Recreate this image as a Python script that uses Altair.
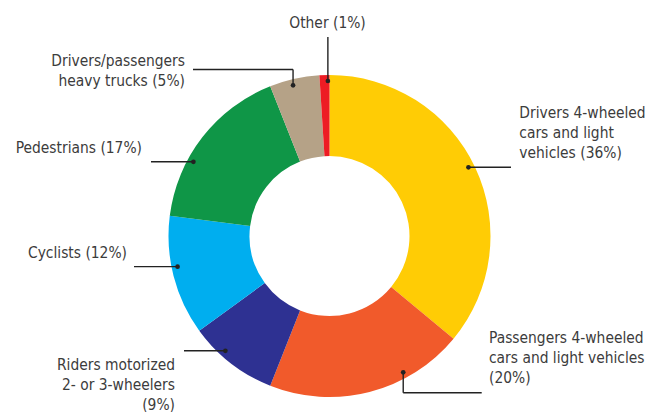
import math
import altair as alt
import pandas as pd

# ---------------- data ----------------
categories = [
    "Drivers 4-wheeled cars and light vehicles",
    "Passengers 4-wheeled cars and light vehicles",
    "Riders motorized 2- or 3-wheelers",
    "Cyclists",
    "Pedestrians",
    "Drivers/passengers heavy trucks",
    "Other",
]
shares = [36, 20, 9, 12, 17, 5, 1]
label_texts = [
    "Drivers 4-wheeled\ncars and light\nvehicles (36%)",
    "Passengers 4-wheeled\ncars and light vehicles\n(20%)",
    "Riders motorized\n2- or 3-wheelers\n(9%)",
    "Cyclists (12%)",
    "Pedestrians (17%)",
    "Drivers/passengers\nheavy trucks (5%)",
    "Other (1%)",
]
colors = ["#FFCC05", "#F15A2B", "#2E3192", "#00AEEF", "#0F9647", "#B5A287", "#ED1C24"]

# ---------------- layout (chart pixel space) ----------------
W, H = 640, 404
CX, CY = 321.5, 228.0
R_OUT, R_IN = 161, 80
DOT_R = 155
dot_angles = [63.7, 151.6, 222.2, 258.6, 298.6, 346.4, 359.4]
# waypoints of leader lines after the dot (None = keep dot coordinate)
leader_paths = [
    [(503, None)],
    [(None, 384.7), (473.7, 384.7)],
    [(176, None)],
    [(126, None)],
    [(143, None)],
    [(None, 61.5), (185, 61.5)],
    [(None, 29)],
]
# x, y of first text line, alignment
label_pos = [
    (511.3, 105, "left"),
    (481.0, 330, "left"),
    (167, 357, "right"),
    (119, 245, "right"),
    (134, 140, "right"),
    (177, 53, "right"),
    (319.5, 15, "center"),
]

FONT = "DejaVu Sans Condensed"
FONT_SIZE = 15.4
TXT = "#3c3c3c"

pie_df = pd.DataFrame({"cat": categories, "value": shares, "idx": list(range(len(categories)))})

dots, segs = [], []
for i, a in enumerate(dot_angles):
    rad = math.radians(a)
    dx = CX + DOT_R * math.sin(rad)
    dy = CY - DOT_R * math.cos(rad)
    dots.append({"x": dx, "y": dy})
    px, py = dx, dy
    for wx, wy in leader_paths[i]:
        nx = px if wx is None else wx
        ny = py if wy is None else wy
        segs.append({"x": px, "y": py, "x2": nx, "y2": ny})
        px, py = nx, ny
dots_df = pd.DataFrame(dots)
segs_df = pd.DataFrame(segs)
lab_df = pd.DataFrame(
    {"text": label_texts, "x": [p[0] for p in label_pos], "y": [p[1] for p in label_pos],
     "align": [p[2] for p in label_pos]}
)

xs = alt.Scale(domain=[0, W], range=[0, W])
ys = alt.Scale(domain=[0, H], range=[0, H])

donut = alt.Chart(pie_df).mark_arc(outerRadius=R_OUT, innerRadius=R_IN).encode(
    theta=alt.Theta("value:Q", stack=True),
    order=alt.Order("idx:Q"),
    color=alt.Color("cat:N", scale=alt.Scale(domain=categories, range=colors), legend=None),
    x=alt.value(CX),
    y=alt.value(CY),
)

lines = alt.Chart(segs_df).mark_rule(color="#222222", strokeWidth=1.4).encode(
    x=alt.X("x:Q", scale=xs, axis=None),
    y=alt.Y("y:Q", scale=ys, axis=None),
    x2="x2:Q",
    y2="y2:Q",
)

pts = alt.Chart(dots_df).mark_circle(color="#222222", opacity=1, size=22).encode(
    x=alt.X("x:Q", scale=xs, axis=None),
    y=alt.Y("y:Q", scale=ys, axis=None),
)

def text_layer(al):
    return alt.Chart(lab_df).transform_filter(alt.datum.align == al).mark_text(
        align=al, baseline="middle", font=FONT, fontSize=FONT_SIZE, lineHeight=20,
        lineBreak="\n", color=TXT,
    ).encode(
        x=alt.X("x:Q", scale=xs, axis=None),
        y=alt.Y("y:Q", scale=ys, axis=None),
        text="text:N",
    )

chart = alt.layer(
    donut, lines, pts, text_layer("left"), text_layer("right"), text_layer("center")
).properties(
    width=W, height=H, padding=0, autosize=alt.AutoSizeParams(type="none")
).configure_view(stroke=None)

chart.save("out.html", embed_options={"renderer": "svg", "actions": False})
